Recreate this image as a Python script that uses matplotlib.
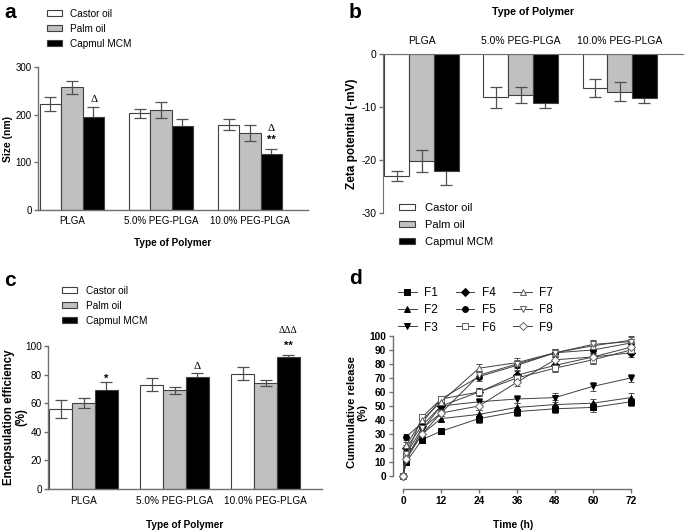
import numpy as np
import matplotlib
matplotlib.use('Agg')
import matplotlib.pyplot as plt
from matplotlib.patches import Patch
from matplotlib.lines import Line2D

plt.rcParams['font.family'] = ['Liberation Sans', 'DejaVu Sans']
plt.rcParams['font.size'] = 7
plt.rcParams['axes.unicode_minus'] = False

W, H = 685, 530

polymers = ['PLGA', '5.0% PEG-PLGA', '10.0% PEG-PLGA']
oils = ['Castor oil', 'Palm oil', 'Capmul MCM']
oil_colors = ['white', '#c0c0c0', 'black']

# panel a: particle size (nm)
size_mean = [[222, 203, 179], [257, 210, 162], [196, 177, 117]]
size_err = [[15, 9, 12], [14, 16, 17], [20, 14, 11]]

# panel b: zeta potential (mV)
zeta_mean = [[-23.0, -8.2, -6.4], [-20.2, -7.8, -7.1], [-22.0, -9.2, -8.3]]
zeta_err = [[1.0, 1.9, 1.7], [2.0, 1.5, 1.8], [2.7, 1.0, 0.9]]

# panel c: encapsulation efficiency (%)
ee_mean = [[56, 73, 80.5], [60, 69, 74], [69, 78, 92]]
ee_err = [[6, 4.5, 4.5], [3.5, 2.5, 2], [6, 3, 1.5]]

# panel d: cumulative release (%)
time_h = [0, 1, 6, 12, 24, 36, 48, 60, 72]
release = {
    'F1': [0, 10, 26, 32, 41, 46, 48, 49, 53],
    'F2': [0, 14, 30, 41, 44, 49, 51, 52, 56],
    'F3': [0, 12, 33, 50, 53, 55, 56, 64, 70],
    'F4': [0, 20, 36, 50, 60, 72, 79, 85, 88],
    'F5': [0, 28, 38, 55, 71, 79, 88, 90, 95],
    'F6': [0, 15, 42, 55, 60, 70, 77, 83, 90],
    'F7': [0, 22, 40, 53, 77, 81, 88, 93, 97],
    'F8': [0, 16, 34, 45, 72, 80, 88, 94, 96],
    'F9': [0, 12, 30, 45, 50, 67, 83, 85, 92],
}
release_err = [0, 2, 2, 2, 3, 3, 3, 3, 3]
markers = {'F1': ('s', True), 'F2': ('^', True), 'F3': ('v', True),
           'F4': ('D', True), 'F5': ('o', True), 'F6': ('s', False),
           'F7': ('^', False), 'F8': ('v', False), 'F9': ('D', False)}

axis_col = '#707070'
err_col = '#505050'


def rect(x0, y0, x1, y1):
    return [x0 / W, 1 - y1 / H, (x1 - x0) / W, (y1 - y0) / H]


def style(ax):
    for s in ['top', 'right']:
        ax.spines[s].set_visible(False)
    for s in ['left', 'bottom']:
        ax.spines[s].set_color(axis_col)
        ax.spines[s].set_linewidth(1.0)
    ax.tick_params(color=axis_col, width=1.0, length=3, pad=1.5)


def bars(ax, means, errs, width=0.25):
    x = np.arange(len(polymers))
    for i in range(3):
        ax.bar(x + (i - 1) * width, means[i], width, color=oil_colors[i],
               edgecolor='#404040', linewidth=0.8, zorder=2)
        ax.errorbar(x + (i - 1) * width, means[i], yerr=errs[i], fmt='none',
                    ecolor=err_col, elinewidth=0.9, capsize=4, capthick=0.9,
                    zorder=1 if i == 2 else 3)
    ax.set_xticks(x)
    ax.set_xticklabels(polymers)
    return x


def oil_legend(ax, x, y, fs=7.2, spacing=0.5):
    handles = [Patch(facecolor=c, edgecolor='#404040', linewidth=0.8)
               for c in oil_colors]
    ax.legend(handles, oils, loc='upper left', bbox_to_anchor=(x / W, 1 - y / H),
              bbox_transform=fig.transFigure, frameon=False, fontsize=fs,
              handlelength=1.45, handleheight=0.55, labelspacing=spacing,
              handletextpad=0.9, borderpad=0, borderaxespad=0)


def ylabel_at(ax, right_px, left_px, width_px):
    # right edge of the rotated label block, in figure pixels
    ax.yaxis.set_label_coords((right_px - left_px) / width_px, 0.5)


def panel_letter(x, y, s):
    fig.text(x / W, 1 - y / H, s, fontsize=15, fontweight='bold',
             ha='left', va='center')


fig = plt.figure(figsize=(W / 100, H / 100), dpi=100)

# a: size
ax_a = fig.add_axes(rect(38, 67, 308, 210))
style(ax_a)
bars(ax_a, size_mean, size_err, width=0.24)
ax_a.set_xlim(-0.38, 2.65)
ax_a.set_ylim(0, 300)
ax_a.set_yticks([0, 100, 200, 300])
ax_a.tick_params(axis='x', length=0, pad=4)
ax_a.set_ylabel('Size (nm)', fontweight='bold', fontsize=7.5)
ylabel_at(ax_a, 13, 38, 270)
ax_a.set_xlabel('Type of Polymer', fontweight='bold', fontsize=7.2, labelpad=9)
ax_a.text(0.25, 227, '\u0394', family='Liberation Serif', ha='center', fontsize=8)
ax_a.text(2.24, 166, '\u0394', family='Liberation Serif', ha='center', fontsize=8)
ax_a.text(2.24, 140, '**', ha='center', fontsize=8, fontweight='bold')
oil_legend(ax_a, 47, 9)
panel_letter(4, 12, 'a')

# b: zeta potential
ax_b = fig.add_axes(rect(383, 54, 683, 213))
for s in ['bottom', 'right']:
    ax_b.spines[s].set_visible(False)
for s in ['left', 'top']:
    ax_b.spines[s].set_color(axis_col)
ax_b.tick_params(color=axis_col, width=1.0, length=3, pad=1.5, labelsize=7.5)
bars(ax_b, zeta_mean, zeta_err, width=0.25)
ax_b.xaxis.tick_top()
ax_b.tick_params(axis='x', length=0, pad=6)
ax_b.set_xlim(-0.39, 2.64)
ax_b.set_ylim(-30, 0)
ax_b.set_yticks([0, -10, -20, -30])
ax_b.set_ylabel('Zeta potential (-mV)', fontweight='bold', fontsize=8.5)
ylabel_at(ax_b, 358, 383, 300)
ax_b.set_title('Type of Polymer', fontweight='bold', fontsize=7.7, pad=28)
oil_legend(ax_b, 399, 203, fs=8, spacing=0.62)
panel_letter(349, 12, 'b')

# c: encapsulation efficiency
ax_c = fig.add_axes(rect(48, 346, 322, 489))
style(ax_c)
bars(ax_c, ee_mean, ee_err, width=0.25)
ax_c.set_xlim(-0.39, 2.62)
ax_c.set_ylim(0, 100)
ax_c.set_yticks([0, 20, 40, 60, 80, 100])
ax_c.tick_params(labelsize=7.2)
ax_c.tick_params(axis='x', length=0, pad=5)
ax_c.set_ylabel('Encapsulation efficiency\n(%)', fontweight='bold', fontsize=8.3,
                linespacing=0.95)
ylabel_at(ax_c, 27, 48, 274)
ax_c.set_xlabel('Type of Polymer', fontweight='bold', fontsize=7.2, labelpad=10)
ax_c.text(0.25, 75, '*', ha='center', fontsize=8, fontweight='bold')
ax_c.text(1.25, 84, '\u0394', family='Liberation Serif', ha='center', fontsize=8)
ax_c.text(2.25, 109, '\u0394\u0394\u0394', family='Liberation Serif', ha='center',
          fontsize=7, clip_on=False)
ax_c.text(2.25, 98, '**', ha='center', fontsize=8, fontweight='bold', clip_on=False)
oil_legend(ax_c, 62, 286)
panel_letter(4, 280, 'c')

# d: cumulative release
ax_d = fig.add_axes(rect(393, 336, 634, 489))
style(ax_d)
handles = []
for name, vals in release.items():
    m, filled = markers[name]
    ms = 4.2 if m != 'D' else 3.6
    ax_d.errorbar(time_h, vals, yerr=release_err, color='#404040', lw=0.7,
                  marker=m, ms=ms, mfc='black' if filled else 'white',
                  mec='black' if filled else '#606060', mew=0.7,
                  ecolor=err_col, elinewidth=0.7, capsize=2.5, clip_on=False)
    handles.append(Line2D([], [], color='#404040', lw=0.7, marker=m, ms=ms,
                          mfc='black' if filled else 'white',
                          mec='black' if filled else '#606060', mew=0.7))
ax_d.set_xlim(-3.2, 73)
ax_d.set_ylim(-9.3, 100)
ax_d.spines['left'].set_bounds(0, 100)
ax_d.spines['bottom'].set_bounds(0, 72)
ax_d.set_xticks(time_h[:1] + time_h[3:])
ax_d.set_yticks(range(0, 101, 10))
ax_d.tick_params(labelsize=7.3, pad=2)
for lab in ax_d.get_xticklabels() + ax_d.get_yticklabels():
    lab.set_fontweight('bold')
ax_d.set_ylabel('Cummulative release\n(%)', fontweight='bold', fontsize=8,
                linespacing=0.95)
ylabel_at(ax_d, 367, 393, 241)
ax_d.set_xlabel('Time (h)', fontweight='bold', fontsize=7.5, labelpad=10)
ax_d.legend(handles, list(release.keys()), ncol=3, loc='upper left',
            bbox_to_anchor=(398 / W, 1 - 287 / H), bbox_transform=fig.transFigure,
            frameon=False, fontsize=8.5, handlelength=1.6, labelspacing=0.45,
            columnspacing=1.5, handletextpad=0.6, borderpad=0, borderaxespad=0)
panel_letter(349, 278, 'd')

fig.savefig('out.png', dpi=100)
